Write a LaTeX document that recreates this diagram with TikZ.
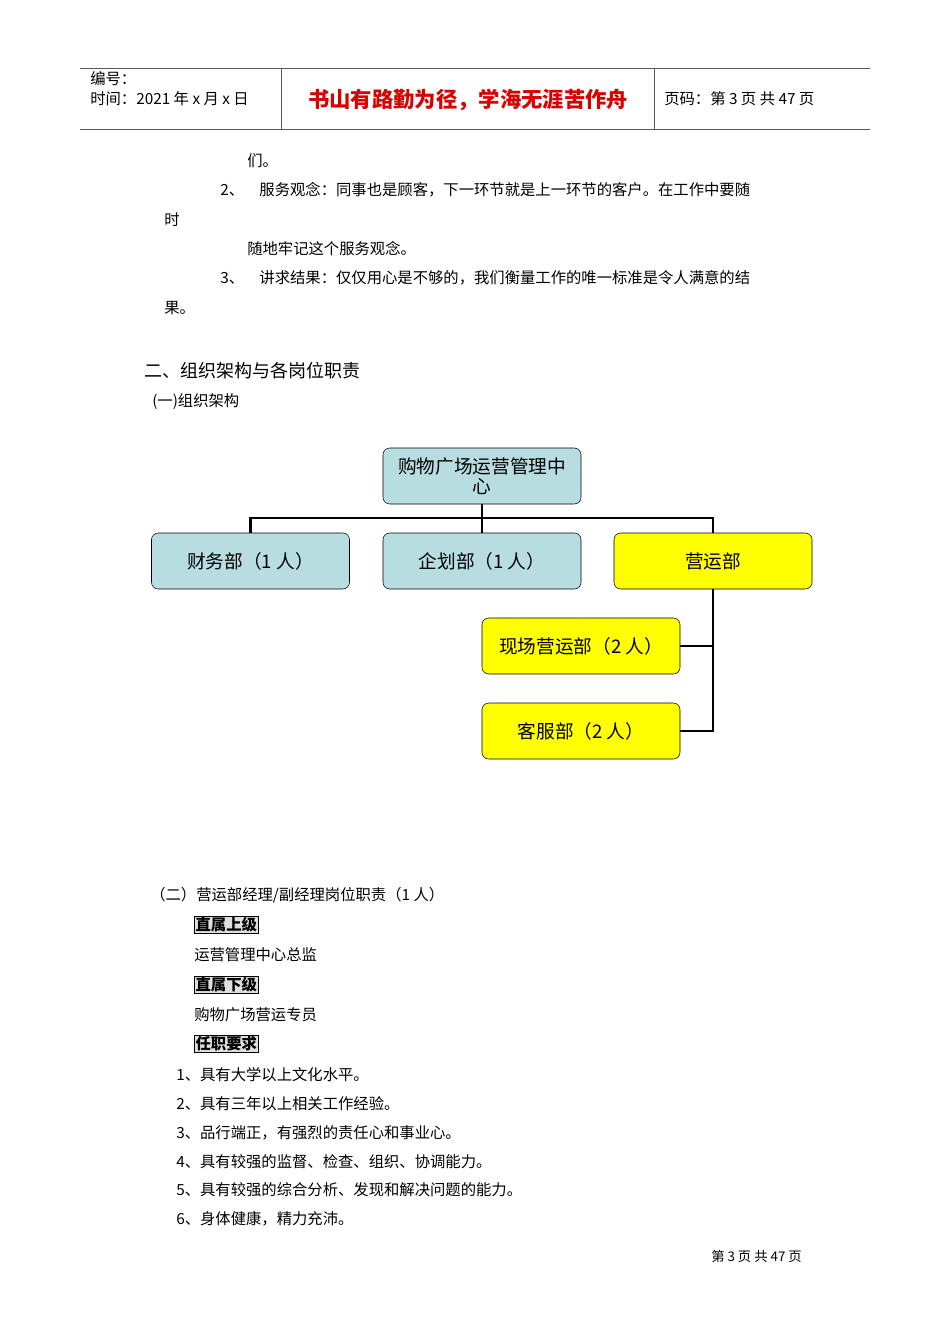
\documentclass[tikz,border=0pt]{standalone}
\usepackage{fontspec}
\setmainfont{Liberation Sans}
\newfontfamily\cjk{Noto Sans CJK SC}
\definecolor{bluebox}{HTML}{B7DDE0}
\definecolor{yelbox}{HTML}{FFFF00}
\begin{document}
\begin{tikzpicture}[x=0.75pt,y=-0.75pt,
  txt/.style={anchor=west,inner sep=0,font=\cjk\fontsize{11.5pt}{13pt}\selectfont},
  box/.style={draw=black,rounded corners=5pt,minimum width=148.5pt,minimum height=42pt,font=\cjk\fontsize{14pt}{16pt}\selectfont,inner sep=1pt,align=center},
  bb/.style={box,fill=bluebox},
  yb/.style={box,fill=yelbox},
  conn/.style={line width=2.2pt},
  lab/.style={txt,draw=black,fill=gray!25,font=\cjk\bfseries\fontsize{11.5pt}{13pt}\selectfont,inner sep=1pt}]
\useasboundingbox (0,0) rectangle (950,1344);
% header
\draw[gray!70!black] (80,68) -- (870,68) (80,129) -- (870,129) (281,68) -- (281,129) (654,68) -- (654,129);
\node[txt] (h1) at (90,79) {编号：};
\node[txt] (h2) at (90,99) {时间：2021 年 x 月 x 日};
\node[inner sep=0,text=red!85!black,font=\cjk\bfseries\fontsize{16pt}{18pt}\selectfont] (h3) at (468,100) {书山有路勤为径，学海无涯苦作舟};
\node[txt] (h4) at (664,99) {页码：第 3 页 共 47 页};
% body
\node[txt] (t1) at (247,161) {们。};
\node[txt] (t2) at (220,190) {2、\quad 服务观念：同事也是顾客，下一环节就是上一环节的客户。在工作中要随};
\node[txt] (t3) at (164,220) {时};
\node[txt] (t4) at (247,249) {随地牢记这个服务观念。};
\node[txt] (t5) at (220,278) {3、\quad 讲求结果：仅仅用心是不够的，我们衡量工作的唯一标准是令人满意的结};
\node[txt] (t6) at (164,308) {果。};
\node[txt,font=\cjk\fontsize{13.5pt}{15pt}\selectfont] (s1) at (144,371) {二、组织架构与各岗位职责};
\node[txt] (s2) at (152,402) {(一)组织架构};
% chart
\node[bb,font=\cjk\fontsize{14pt}{15pt}\selectfont] (top) at (482,476) {购物广场运营管理中\\心};
\node[bb] (cw) at (250.5,561) {财务部（1 人）};
\node[bb] (qh) at (482,561) {企划部（1 人）};
\node[yb] (yy) at (713,561) {营运部};
\node[yb] (xc) at (581,646) {现场营运部（2 人）};
\node[yb] (kf) at (581,731) {客服部（2 人）};
\coordinate (hl) at (250.5,518);
\coordinate (hr) at (713,518);
\coordinate (vb) at (713,731);
\draw[conn] (top.south) -- (qh.north);
\draw[conn] (cw.north) -- (hl) -- (hr) -- (yy.north);
\draw[conn] (yy.south) -- (vb) -- (kf.east);
\draw[conn] (xc.east) -- (713,646);
% section 2
\node[txt] (u1) at (150,895) {（二）营运部经理/副经理岗位职责（1 人）};
\node[lab] (l1) at (194,925) {直属上级};
\node[txt] (u2) at (194,955) {运营管理中心总监};
\node[lab] (l2) at (194,985) {直属下级};
\node[txt] (u3) at (194,1015) {购物广场营运专员};
\node[lab] (l3) at (194,1044) {任职要求};
\node[txt] (r1) at (176,1075) {1、具有大学以上文化水平。};
\node[txt] (r2) at (176,1104) {2、具有三年以上相关工作经验。};
\node[txt] (r3) at (176,1133) {3、品行端正，有强烈的责任心和事业心。};
\node[txt] (r4) at (176,1162) {4、具有较强的监督、检查、组织、协调能力。};
\node[txt] (r5) at (176,1190) {5、具有较强的综合分析、发现和解决问题的能力。};
\node[txt] (r6) at (176,1219) {6、身体健康，精力充沛。};
\node[txt,font=\cjk\fontsize{10pt}{12pt}\selectfont] (ft) at (711,1256) {第 3 页 共 47 页};
\end{tikzpicture}
\end{document}
